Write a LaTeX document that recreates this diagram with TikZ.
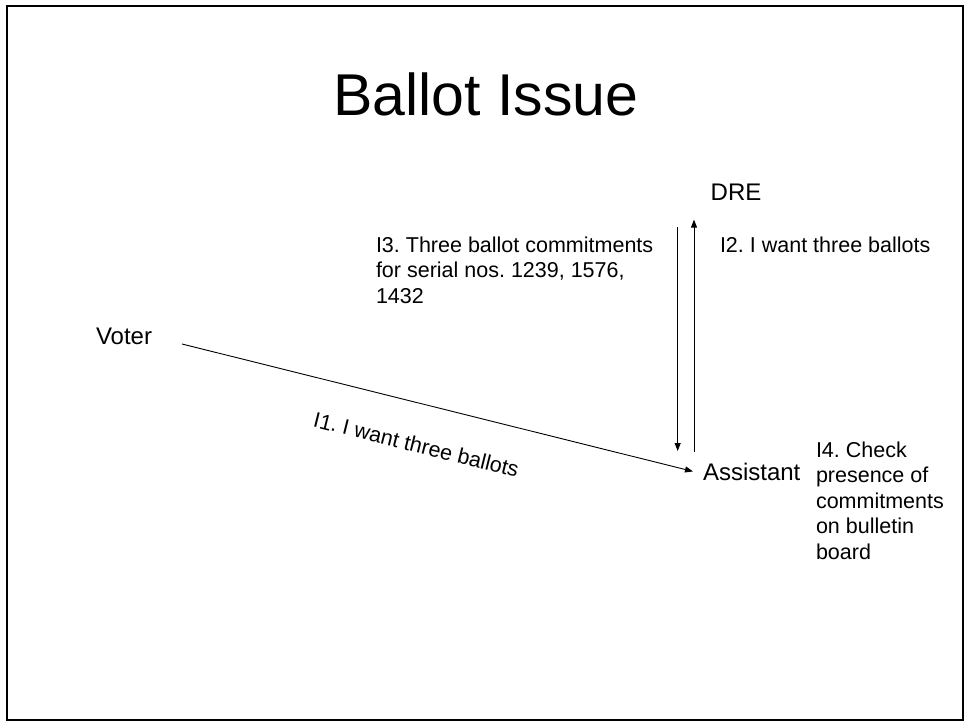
\documentclass[tikz,border=0pt]{standalone}
\usepackage{fontspec}
\setmainfont{Liberation Sans}
\usetikzlibrary{arrows.meta,calc}
\frenchspacing
\begin{document}
\begin{tikzpicture}[x=1pt,y=-1pt,
  every node/.style={inner sep=0pt, outer sep=0pt},
  actor/.style={font=\fontsize{24}{28}\selectfont},
  msg/.style={font=\fontsize{21.5}{25.5}\selectfont, align=left},
  arr/.style={-{Triangle[length=8pt,width=6pt]}, line width=0.9pt},
]
\useasboundingbox (0,0) rectangle (966,723);
% slide frame
\draw[line width=2pt] (7,6) rectangle (963,720);

% title
\node[anchor=base, font=\fontsize{59}{70}\selectfont] (title) at (486,115) {Ballot Issue};

% parties
\node[actor, anchor=base] (dre) at (736,200) {DRE};
\node[actor, anchor=base west] (voter) at (96,344) {Voter};
\node[actor, anchor=base west] (asst) at (703,480) {Assistant};

% messages
\draw[arr] ($(voter.base east)+(30,0)$) -- ($(asst.west)+(-10,0)$)
  node[msg, sloped, pos=0.478, below=33pt] (m1) {I1. I want three ballots};

\coordinate (upA) at ($(asst.north west)+(-9,-11)$);
\draw[arr] (upA) -- ++(0,-232);
\node[msg, anchor=base west] (m2) at (720,252) {I2. I want three ballots};

\coordinate (dnA) at ($(dre.south west)+(-33,27)$);
\draw[arr] (dnA) -- ++(0,224);
\node[msg, anchor=north west] (m3) at (376,236.5)
  {I3. Three ballot commitments\\for serial nos. 1239, 1576,\\1432};

\node[msg, anchor=north west] (m4) at (816,441.6)
  {I4. Check\\presence of\\commitments\\on bulletin\\board};
\end{tikzpicture}
\end{document}
